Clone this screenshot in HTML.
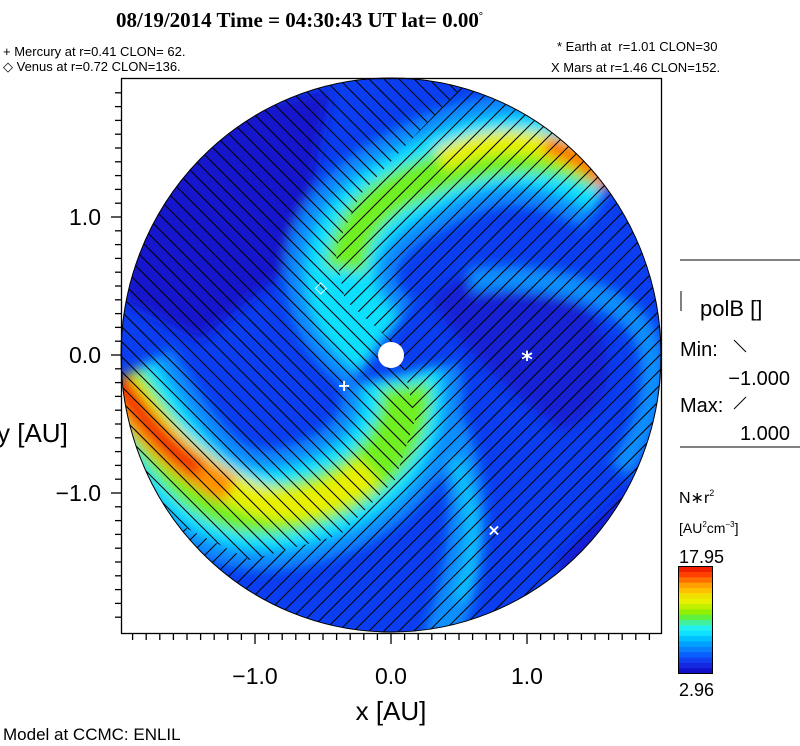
<!DOCTYPE html>
<html><head><meta charset="utf-8">
<style>
html,body{margin:0;padding:0;background:#fff;}
body{width:800px;height:746px;position:relative;overflow:hidden;font-family:"Liberation Sans",sans-serif;}
.t{position:absolute;white-space:nowrap;color:#000;}
</style></head>
<body>
<div class="t" style="left:116px;top:8px;font:bold 21px 'Liberation Serif',serif;">08/19/2014 Time = 04:30:43 UT lat= 0.00<sup style="font-size:10px">°</sup></div>
<div class="t" style="left:3px;top:44px;font-size:13px;">+ Mercury at r=0.41 CLON= 62.</div>
<div class="t" style="left:3px;top:59px;font-size:13px;">◇ Venus at r=0.72 CLON=136.</div>
<div class="t" style="left:557px;top:39px;font-size:13px;">* Earth at &nbsp;r=1.01 CLON=30</div>
<div class="t" style="left:551px;top:60px;font-size:13px;">X Mars at r=1.46 CLON=152.</div>

<svg width="800" height="746" style="position:absolute;left:0;top:0">
<defs>
<clipPath id="disk"><ellipse cx="391" cy="355" rx="270" ry="277"/></clipPath>
<filter id="bl" x="-20%" y="-20%" width="140%" height="140%"><feGaussianBlur stdDeviation="6"/></filter>
<mask id="mBack"><polygon fill="#fff" points="393,342 345,300 335,250 360,195 420,130 470,78 121,78 121,470 170,520 250,560 340,535 395,480 415,420 405,370"/></mask>
<mask id="mFwd"><rect width="800" height="746" fill="#fff"/><polygon fill="#000" points="393,342 345,300 335,250 360,195 420,130 470,78 121,78 121,470 170,520 250,560 340,535 395,480 415,420 405,370"/></mask>
</defs>
<g clip-path="url(#disk)">
<ellipse cx="391" cy="355" rx="270" ry="277" fill="#0a3ef0"/>
<g filter="url(#bl)">
<path d="M150 120 L330 90 L300 260 L200 340 L121 300 Z" fill="#1418cc"/>
<path d="M430 300 C480 250,560 260,600 330 C620 380,600 420,560 430 C520 400,470 360,430 300Z" fill="#1424d4"/>
<path d="M560 560 C600 520,640 480,650 470 L650 600 L560 620Z" fill="#1418cc"/>
<path d="M470 280 C560 270,640 300,650 350 S640 440,620 470" stroke="#0a90ff" stroke-width="24" fill="none"/>
<path d="M440 410 C470 470,480 540,440 640" stroke="#0a90ff" stroke-width="36" fill="none"/>
<path d="M455 460 C475 510,480 550,460 600" stroke="#10c8ff" stroke-width="12" fill="none"/>
<path d="M400 375 C410 420,390 480,300 505 S170 460,120 380" stroke="#0a8cff" stroke-width="120" fill="none"/>
<path d="M400 375 C410 420,390 480,300 505 S170 460,120 380" stroke="#10e0ff" stroke-width="80" fill="none"/>
<path d="M405 385 C410 420,390 480,300 505 S170 460,120 380" stroke="#70f020" stroke-width="50" fill="none"/>
<path d="M370 470 C340 495,310 505,280 505 S170 460,120 380" stroke="#e8f000" stroke-width="32" fill="none"/>
<path d="M230 490 C190 470,150 440,118 385" stroke="#ff9000" stroke-width="30" fill="none"/>
<path d="M200 470 C170 450,145 420,118 380" stroke="#f02000" stroke-width="18" fill="none"/>
<path d="M380 345 C320 300,330 230,400 190 S520 130,610 180" stroke="#0a8cff" stroke-width="110" fill="none"/>
<path d="M380 345 C320 300,330 230,400 190 S520 130,610 180" stroke="#10e0ff" stroke-width="70" fill="none"/>
<path d="M345 270 C350 230,370 205,400 190 S520 130,600 170" stroke="#70f020" stroke-width="40" fill="none"/>
<path d="M440 160 C480 140,530 130,590 165" stroke="#e8f000" stroke-width="24" fill="none"/>
<path d="M545 145 C570 150,590 165,610 185" stroke="#ff7000" stroke-width="18" fill="none"/>
</g>
<g id="hatchBack" mask="url(#mBack)" stroke="#000" stroke-width="1"></g>
<g id="hatchFwd" mask="url(#mFwd)" stroke="#000" stroke-width="1"></g>
</g>
<ellipse cx="391" cy="355" rx="270" ry="277" fill="none" stroke="#000" stroke-width="1"/>
<circle cx="391" cy="355" r="13" fill="#fff"/>
<g id="planets"></g>
<rect x="121.5" y="78.5" width="540" height="555" fill="none" stroke="#000" stroke-width="1.3"/>
<g id="ticks" stroke="#000" stroke-width="1.3"></g>
<g id="ticklabels" font-family="Liberation Sans, sans-serif" font-size="23" fill="#000"></g>
<text x="391" y="720" text-anchor="middle" font-size="26" font-family="Liberation Sans, sans-serif">x [AU]</text>
<text x="-3" y="442" font-size="26" font-family="Liberation Sans, sans-serif">y [AU]</text>
<text x="3" y="740" font-size="17" font-family="Liberation Sans, sans-serif">Model at CCMC: ENLIL</text>
<line x1="680" y1="260" x2="800" y2="260" stroke="#000"/>
<line x1="680" y1="447" x2="800" y2="447" stroke="#000"/>
<g font-family="Liberation Sans, sans-serif" font-size="20" fill="#000">
<line x1="681" y1="291" x2="681" y2="311" stroke="#000"/>
<text x="700" y="316" font-size="22">polB []</text>
<text x="680" y="356">Min:</text><line x1="734" y1="340" x2="746" y2="352" stroke="#000"/>
<text x="790" y="385" text-anchor="end">−1.000</text>
<text x="680" y="412">Max:</text><line x1="734" y1="409" x2="746" y2="397" stroke="#000"/>
<text x="790" y="440" text-anchor="end">1.000</text>
</g>
<g font-family="Liberation Sans, sans-serif" fill="#000">
<text x="679" y="503" font-size="16">N∗r<tspan font-size="9" dy="-7">2</tspan></text>
<text x="679" y="533" font-size="14">[AU<tspan font-size="8" dy="-6">2</tspan><tspan dy="6">cm</tspan><tspan font-size="8" dy="-6">−3</tspan><tspan dy="6">]</tspan></text>
<text x="679" y="563" font-size="18">17.95</text>
<text x="679" y="696" font-size="18">2.96</text>
</g>
<g id="cbar"></g>
<rect x="678.5" y="566.5" width="34" height="107" fill="none" stroke="#000"/>
</svg>
<script>
var NS='http://www.w3.org/2000/svg';
var xTicks=[-1.0,0.0,1.0];
var xTickLabels=['−1.0','0.0','1.0'];
var yTicks=[1.0,0.0,-1.0];
var yTickLabels=['1.0','0.0','−1.0'];
var planetNames=['venus','mercury','earth','mars'];
var planetX=[-0.515,-0.345,1.0,0.757];
var planetY=[0.49,-0.225,0.0,-1.27];
var planetSym=['◇','+','*','×'];
var cbarColors=['#1010c8','#1428e0','#1040f0','#0a60ff','#0a80ff','#00a0ff','#00c0ff','#10e0ff','#20f0f0','#40f0a0','#60f040','#90f000','#c0f000','#e8f000','#f0e000','#ffc000','#ffa000','#ff7000','#ff4000','#f02000'];
var X0=391,Y0=355,SX=136,SY=138;
function xs(v){return X0+v*SX;} function ys(v){return Y0-v*SY;}
function mk(tag,attrs,parent){var e=document.createElementNS(NS,tag);for(var k in attrs)e.setAttribute(k,attrs[k]);parent.appendChild(e);return e;}
var hb=document.getElementById('hatchBack'),hf=document.getElementById('hatchFwd');
for(var c=-700;c<900;c+=15){
 var l=mk('line',{x1:c,y1:60,x2:c+620,y2:680},hb);
 
 
 var m=mk('line',{x1:c,y1:680,x2:c+620,y2:60},hf);
 
 
}
var tg=document.getElementById('ticks'),lg=document.getElementById('ticklabels');
for(var i=-19;i<=19;i++){
 var v=i/10,px=xs(v),maj=(i%10===0);
 if(px>121&&px<661){var t=mk('line',{x1:px,y1:634,x2:px,y2:maj?644:640},tg);
 
 }
 var py=ys(v);
 if(py>78&&py<633){var u=mk('line',{x1:121,y1:py,x2:maj?111:115,y2:py},tg);
 
 }
}
xTicks.forEach(function(v,i){var e=mk('text',{x:xs(v),y:684,'text-anchor':'middle'},lg);e.textContent=xTickLabels[i];
 
 });
yTicks.forEach(function(v,i){var e=mk('text',{x:101,y:ys(v)+8,'text-anchor':'end'},lg);e.textContent=yTickLabels[i];
 
 });
var pg=document.getElementById('planets');
planetNames.forEach(function(n,i){var e=mk('text',{x:xs(planetX[i]),y:ys(planetY[i])+5,'text-anchor':'middle',fill:'#fff','font-size':planetSym[i]==='*'?22:16,'font-weight':'bold','font-family':'DejaVu Sans, sans-serif'},pg);
 if(planetSym[i]==='*')e.setAttribute('y',ys(planetY[i])+12);
 e.textContent=planetSym[i];
 
 });
var cb=document.getElementById('cbar'),h=107/cbarColors.length;
cbarColors.forEach(function(col,i){var r=mk('rect',{x:679,y:673-(i+1)*h,width:33,height:h+0.6,fill:col},cb);
 
 });
</script>
</body></html>
